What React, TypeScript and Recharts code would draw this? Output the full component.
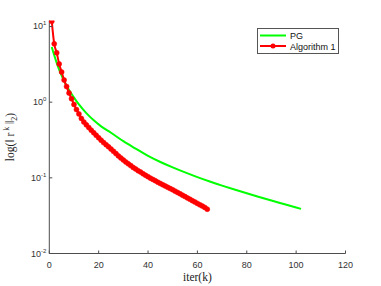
import React from "react";
import { Line, LineChart, XAxis, YAxis } from "recharts";

const pgIter = [1, 2, 3, 4, 5, 6, 7, 8, 10, 12, 15, 18, 21, 25, 30, 35, 40, 45, 50, 55, 60, 65, 70, 75, 80, 85, 90, 95, 102];
const pgValues = [
  5.37, 4.17, 3.31, 2.69, 2.24, 1.905, 1.64, 1.445, 1.148, 0.933, 0.716, 0.575, 0.479, 0.394, 0.305, 0.243, 0.195, 0.162,
  0.1374, 0.118, 0.1023, 0.0895, 0.0789, 0.07, 0.0624, 0.0558, 0.0501, 0.0451, 0.0389,
];

const algIter = [
  1, 2, 3, 4, 5, 6, 7, 8, 9, 10, 11, 12, 13, 14, 15, 16, 17, 18, 19, 20, 21, 22, 23, 24, 25, 26, 27, 28, 29, 30, 31, 32,
  33, 34, 35, 36, 37, 38, 39, 40, 41, 42, 43, 44, 45, 46, 47, 48, 49, 50, 51, 52, 53, 54, 55, 56, 57, 58, 59, 60, 61, 62, 63, 64,
];
const algValues = [
  11.7, 5.9, 4.5, 3.2, 2.5, 1.96, 1.61, 1.32, 1.11, 0.933, 0.8, 0.7, 0.61, 0.547, 0.501, 0.462, 0.427, 0.394, 0.365, 0.338,
  0.314, 0.292, 0.274, 0.257, 0.24, 0.224, 0.209, 0.195, 0.183, 0.172, 0.162, 0.153, 0.145, 0.137, 0.131, 0.124, 0.119,
  0.113, 0.108, 0.1035, 0.099, 0.095, 0.0912, 0.0875, 0.0841, 0.0809, 0.0778, 0.0748, 0.0721, 0.0695, 0.0667, 0.064,
  0.0614, 0.0589, 0.0565, 0.0542, 0.052, 0.0499, 0.0479, 0.0459, 0.044, 0.0423, 0.0406, 0.0385,
];

const xTicks = [0, 20, 40, 60, 80, 100, 120];
const yTicks = [0.01, 0.1, 1, 10];
const yExp = ["-2", "-1", "0", "1"];
const seriesNames = ["PG", "Algorithm 1"];

const pgData = pgIter.map((it, i) => ({ iter: it, value: pgValues[i] }));
const algData = algIter.map((it, i) => ({ iter: it, value: algValues[i] }));

const AXIS = "#4d4d4d";
const SANS = "'Liberation Sans', Arial, sans-serif";
const SERIF = "'Liberation Serif', 'Times New Roman', serif";

function BottomTick(props: any) {
  const { x, y, payload } = props;
  return (
    <g>
      <line x1={x} y1={y} x2={x} y2={y - 3} stroke={AXIS} />
      <text x={x} y={y + 14} textAnchor="middle" fontSize={9} fontFamily={SANS} fill="#333">
        {payload.value}
      </text>
    </g>
  );
}

function TopTick(props: any) {
  const { x, y } = props;
  return <line x1={x} y1={y} x2={x} y2={y + 3} stroke={AXIS} />;
}

function LeftTick(props: any) {
  const { x, y, payload } = props;
  const idx = yTicks.indexOf(payload.value);
  return (
    <g>
      <line x1={x} y1={y} x2={x + 3} y2={y} stroke={AXIS} />
      <text x={x - 3} y={y + 3} textAnchor="end" fontSize={9} fontFamily={SANS} fill="#333">
        <tspan>10</tspan>
        <tspan dy={-4} fontSize={6}>
          {yExp[idx]}
        </tspan>
      </text>
    </g>
  );
}

function RightTick(props: any) {
  const { x, y } = props;
  return <line x1={x} y1={y} x2={x - 3} y2={y} stroke={AXIS} />;
}

function YLabel() {
  return (
    <text
      x={14}
      y={137}
      transform="rotate(-90, 14, 137)"
      textAnchor="middle"
      fontSize={11.5}
      fontFamily={SERIF}
      fill="#222"
    >
      <tspan>log(‖ r</tspan>
      <tspan dy={-5} fontSize={8}>
        {" k"}
      </tspan>
      <tspan dy={5}>{" ‖"}</tspan>
      <tspan dy={3} fontSize={8}>
        2
      </tspan>
      <tspan dy={-3}>)</tspan>
    </text>
  );
}

function XLabel() {
  return (
    <text x={197.4} y={281} textAnchor="middle" fontSize={11.5} fontFamily={SERIF} fill="#222">
      iter(k)
    </text>
  );
}

export default function App() {
  return (
    <div style={{ position: "relative", width: 381, height: 286, background: "#fff" }}>
      <style>{`body{margin:0}`}</style>
      <LineChart width={381} height={286} margin={{ top: 20.5, right: 35.5, bottom: 2.5, left: 0 }}>
        <XAxis
          dataKey="iter"
          type="number"
          domain={[0, 120]}
          ticks={xTicks}
          height={30}
          stroke={AXIS}
          tickSize={0}
          tickMargin={0}
          tickLine={false}
          tick={BottomTick}
          label={{ content: XLabel }}
        />
        <XAxis
          xAxisId="top"
          orientation="top"
          dataKey="iter"
          type="number"
          domain={[0, 120]}
          ticks={xTicks}
          height={0}
          stroke={AXIS}
          tickSize={0}
          tickMargin={0}
          tickLine={false}
          tick={TopTick}
        />
        <YAxis
          scale="log"
          type="number"
          domain={[0.01, 12]}
          allowDataOverflow
          ticks={yTicks}
          width={49.3}
          stroke={AXIS}
          tickSize={0}
          tickMargin={0}
          tickLine={false}
          tick={LeftTick}
          label={{ content: YLabel }}
        />
        <YAxis
          yAxisId="right"
          orientation="right"
          scale="log"
          type="number"
          domain={[0.01, 12]}
          allowDataOverflow
          ticks={yTicks}
          width={0}
          stroke={AXIS}
          tickSize={0}
          tickMargin={0}
          tickLine={false}
          tick={RightTick}
        />
        <Line
          data={pgData}
          dataKey="value"
          name={seriesNames[0]}
          type="monotone"
          stroke="#00ff00"
          strokeWidth={2}
          dot={false}
          isAnimationActive={false}
        />
        <Line
          data={algData}
          dataKey="value"
          name={seriesNames[1]}
          type="monotone"
          stroke="#ff0000"
          strokeWidth={2}
          dot={{ r: 2.5, fill: "#ff0000", stroke: "#ff0000", strokeWidth: 0.5 }}
          isAnimationActive={false}
        />
      </LineChart>
      <div
        style={{
          position: "absolute",
          left: 256.5,
          top: 28,
          width: 80,
          height: 24,
          border: "1px solid #555",
          background: "#fff",
        }}
      >
        <svg width={80} height={24}>
          <line x1={2} y1={6.5} x2={28} y2={6.5} stroke="#00ff00" strokeWidth={2} />
          <text x={32} y={10} fontSize={9} fontFamily={SANS} fill="#111">
            {seriesNames[0]}
          </text>
          <line x1={2} y1={17} x2={28} y2={17} stroke="#ff0000" strokeWidth={2} />
          <circle cx={15} cy={17} r={2.5} fill="#ff0000" />
          <text x={32} y={20.5} fontSize={9} fontFamily={SANS} fill="#111">
            {seriesNames[1]}
          </text>
        </svg>
      </div>
    </div>
  );
}
